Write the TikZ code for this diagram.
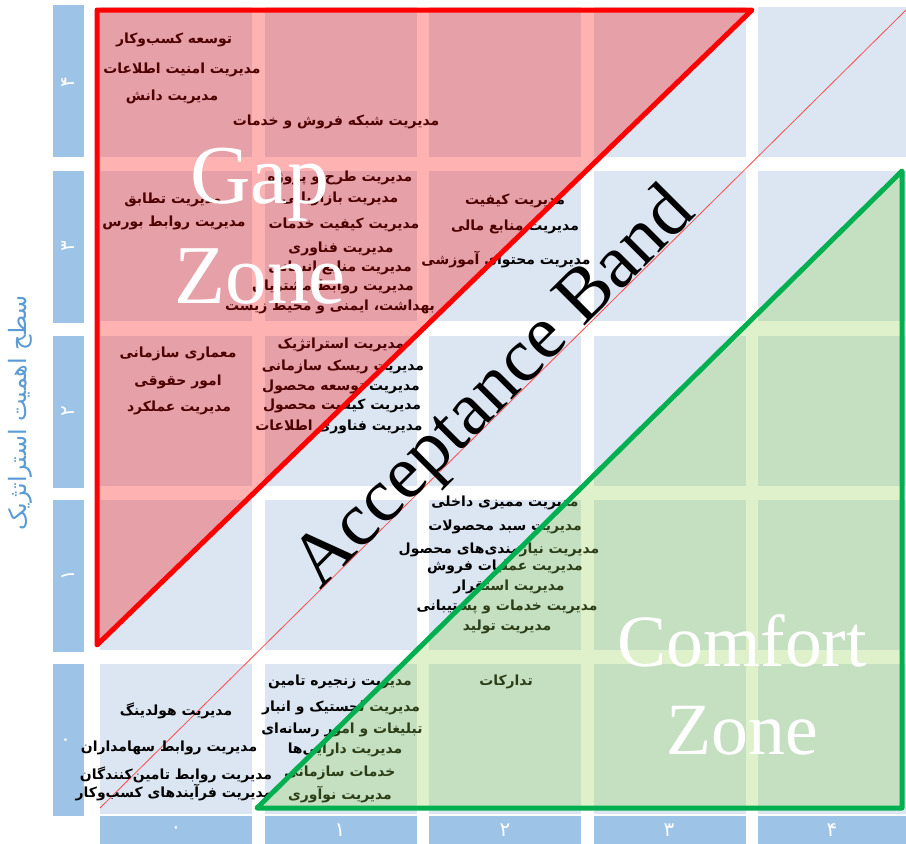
\documentclass[tikz,border=0pt]{standalone}
\usepackage{fontspec}
\setmainfont{Liberation Serif}
\newfontfamily\farsi[Script=Arabic]{DejaVu Sans}
\TeXXeTstate=1
\usepackage{tikz}
\usetikzlibrary{positioning}
\newcommand{\fa}[1]{{\farsi\beginR #1\endR}}
\definecolor{cellblue}{RGB}{220,230,242}
\definecolor{axisblue}{RGB}{157,195,230}
\definecolor{titleblue}{RGB}{91,155,213}
\definecolor{okgreen}{RGB}{0,176,80}
\definecolor{lightgreen}{RGB}{146,208,80}

\begin{document}
\begin{tikzpicture}[x=1bp,y=-1bp]
  \tikzstyle{item}=[inner sep=0pt,text=black,font=\farsi\bfseries\fontsize{14}{16}\selectfont]
  \tikzstyle{axisbox}=[fill=axisblue,draw=none]
  \tikzstyle{axislabel}=[inner sep=0pt,text=white,font=\farsi\fontsize{20}{22}\selectfont]
  \tikzstyle{zone}=[inner sep=0pt,text=white,align=center,font=\fontsize{84}{100}\selectfont]

  \useasboundingbox (0,0) rectangle (906,844);

  % grid of cells
  \foreach \cx in {100,264.5,429,593.5,758}
    \foreach \cy in {7,171,336,500,664}
      \fill[cellblue] (\cx,\cy) rectangle ++(152,150);

  % axes
  \foreach \cx in {100,264.5,429,593.5,758}
    \fill[axisblue] (\cx,816) rectangle ++(152,40);
  \foreach \cy in {5,171,336,500,664}
    \fill[axisblue] (53,\cy) rectangle ++(31,152);

  \node[axislabel] (x0) at (176,830) {\fa{۰}};
  \node[axislabel] (x1) at (340,830) {\fa{۱}};
  \node[axislabel] (x2) at (505,830) {\fa{۲}};
  \node[axislabel] (x3) at (669,830) {\fa{۳}};
  \node[axislabel] (x4) at (832,830) {\fa{۴}};
  \node[axislabel,rotate=90] (y4) at (68,82) {\fa{۴}};
  \node[axislabel,rotate=90] (y3) at (68,246) {\fa{۳}};
  \node[axislabel,rotate=90] (y2) at (68,411) {\fa{۲}};
  \node[axislabel,rotate=90] (y1) at (68,575) {\fa{۱}};
  \node[axislabel,rotate=90] (y0) at (68,740) {\fa{۰}};
  \node[inner sep=0pt,rotate=90,text=titleblue,font=\farsi\fontsize{24}{28}\selectfont]
    (ytitle) at (20,413) {\fa{سطح اهمیت استراتژیک}};

  % diagonal
  \coordinate (dstart) at (100,808);
  \coordinate (dend) at (906,10);
  \draw[red!70,line width=0.8bp] (dstart) -- (dend);

  % row 4
  \node[item] (t40a) at (174,40) {\fa{توسعه کسب‌وکار}};
  \node[item] (t40b) at (182,70) {\fa{مدیریت امنیت اطلاعات}};
  \node[item] (t40c) at (172,97) {\fa{مدیریت دانش}};
  \node[item] (t40d) at (336,122) {\fa{مدیریت شبکه فروش و خدمات}};
  % row 3
  \node[item] (t30a) at (173,200) {\fa{مدیریت تطابق}};
  \node[item] (t30b) at (174,223) {\fa{مدیریت روابط بورس}};
  \node[item] (t31a) at (340,178) {\fa{مدیریت طرح و پروژه}};
  \node[item] (t31b) at (340,199) {\fa{مدیریت بازاریابی}};
  \node[item] (t31c) at (344,225) {\fa{مدیریت کیفیت خدمات}};
  \node[item] (t31d) at (341,249) {\fa{مدیریت فناوری}};
  \node[item] (t31e) at (340,268) {\fa{مدیریت منابع انسانی}};
  \node[item] (t31f) at (333,287) {\fa{مدیریت روابط مشتریان}};
  \node[item] (t31g) at (330,307) {\fa{بهداشت، ایمنی و محیط زیست}};
  \node[item] (t32a) at (515,201) {\fa{مدیریت کیفیت}};
  \node[item] (t32b) at (515,227) {\fa{مدیریت منابع مالی}};
  \node[item] (t32c) at (506,260) {\fa{مدیریت محتوای آموزشی}};
  % row 2
  \node[item] (t20a) at (178,354) {\fa{معماری سازمانی}};
  \node[item] (t20b) at (178,382) {\fa{امور حقوقی}};
  \node[item] (t20c) at (179,408) {\fa{مدیریت عملکرد}};
  \node[item] (t21a) at (341,345) {\fa{مدیریت استراتژیک}};
  \node[item] (t21b) at (343,367) {\fa{مدیریت ریسک سازمانی}};
  \node[item] (t21c) at (341,387) {\fa{مدیریت توسعه محصول}};
  \node[item] (t21d) at (342,406) {\fa{مدیریت کیفیت محصول}};
  \node[item] (t21e) at (339,427) {\fa{مدیریت فناوری اطلاعات}};
  % row 1
  \node[item] (t12a) at (505,503) {\fa{مدیریت ممیزی داخلی}};
  \node[item] (t12b) at (505,527) {\fa{مدیریت سبد محصولات}};
  \node[item] (t12c) at (499,550) {\fa{مدیریت نیازمندی‌های محصول}};
  \node[item] (t12d) at (505,567) {\fa{مدیریت عملیات فروش}};
  \node[item] (t12e) at (509,587) {\fa{مدیریت استقرار}};
  \node[item] (t12f) at (507,607) {\fa{مدیریت خدمات و پشتیبانی}};
  \node[item] (t12g) at (507,627) {\fa{مدیریت تولید}};
  % row 0
  \node[item] (t00a) at (176,711) {\fa{مدیریت هولدینگ}};
  \node[item] (t00b) at (169,748) {\fa{مدیریت روابط سهامداران}};
  \node[item] (t00c) at (176,775) {\fa{مدیریت روابط تامین‌کنندگان}};
  \node[item] (t00d) at (174,793) {\fa{مدیریت فرآیندهای کسب‌وکار}};
  \node[item] (t01a) at (340,682) {\fa{مدیریت زنجیره تامین}};
  \node[item] (t01b) at (341,708) {\fa{مدیریت لجستیک و انبار}};
  \node[item] (t01c) at (342,730) {\fa{تبلیغات و امور رسانه‌ای}};
  \node[item] (t01d) at (345,750) {\fa{مدیریت دارایی‌ها}};
  \node[item] (t01e) at (340,773) {\fa{خدمات سازمانی}};
  \node[item] (t01f) at (340,795) {\fa{مدیریت نوآوری}};
  \node[item] (t02a) at (506,682) {\fa{تدارکات}};

  % zones
  \coordinate (gA) at (97,10);
  \coordinate (gB) at (752,10);
  \coordinate (gC) at (97,645);
  \fill[red,opacity=0.3] (gA) -- (gB) -- (gC) -- cycle;
  \draw[red,line width=5bp,line join=round] (gA) -- (gB) -- (gC) -- cycle;

  \coordinate (cA) at (902,171);
  \coordinate (cB) at (902,808);
  \coordinate (cC) at (257,808);
  \fill[lightgreen,opacity=0.3] (cA) -- (cB) -- (cC) -- cycle;
  \draw[okgreen,line width=5bp,line join=round] (cA) -- (cB) -- (cC) -- cycle;

  \node[zone] (gap) at (260,226) {Gap\\Zone};
  \node[zone,font=\fontsize{74}{89}\selectfont] (comfort) at (742,685) {Comfort\\Zone};
  \node[inner sep=0pt,rotate=45,font=\fontsize{76}{90}\selectfont] (band) at (496,390) {Acceptance Band};
\end{tikzpicture}
\end{document}
